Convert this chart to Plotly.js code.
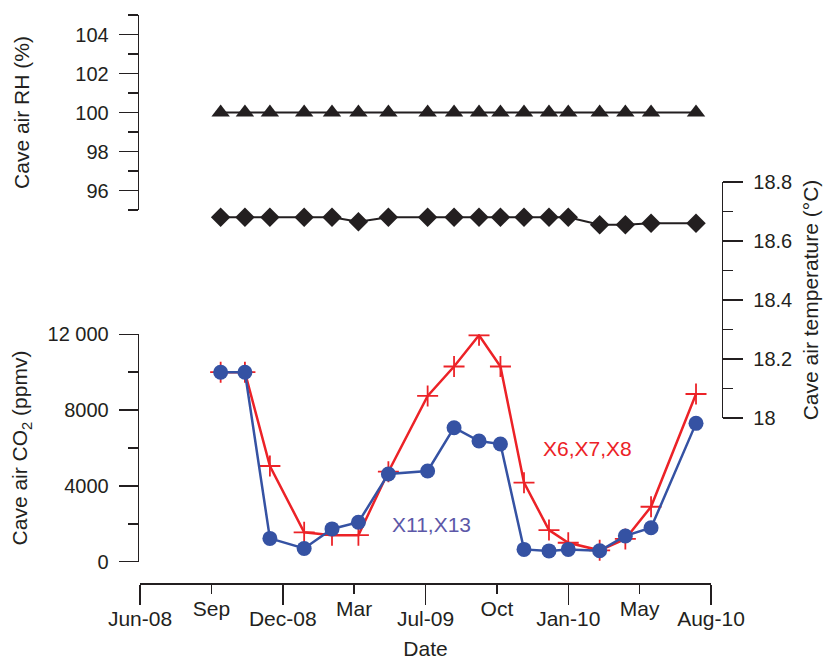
<!DOCTYPE html>
<html><head><meta charset="utf-8">
<script src="https://cdn.plot.ly/plotly-3.0.1.min.js"></script>
<style>html,body{margin:0;padding:0;background:#fff}#chart{width:823px;height:663px}</style>
</head><body><div id="chart"></div>
<script>
// Sampling dates as positions along the (evenly spaced) date axis, in tick intervals from Jun-08
const samplePos = [1.13, 1.47, 1.82, 2.30, 2.69, 3.06, 3.48, 4.03, 4.40, 4.75, 5.05, 5.38, 5.73, 6.00, 6.44, 6.80, 7.16, 7.79];
const rhValues = [100, 100, 100, 100, 100, 100, 100, 100, 100, 100, 100, 100, 100, 100, 100, 100, 100, 100];
const tempValues = [18.68, 18.68, 18.68, 18.68, 18.68, 18.665, 18.68, 18.68, 18.68, 18.68, 18.68, 18.68, 18.68, 18.68, 18.655, 18.655, 18.66, 18.66];
const co2X6X7X8 = [10000, 10000, 5050, 1550, 1400, 1400, 4750, 8750, 10300, 11950, 10300, 4170, 1670, 1000, 600, 1200, 2900, 8850];
const co2X11X13 = [10000, 10000, 1230, 700, 1730, 2080, 4630, 4790, 7070, 6370, 6210, 650, 570, 650, 580, 1360, 1790, 7300];

const majorTickPos = [0, 2, 4, 6, 8];
const majorTickLabels = ['Jun-08', 'Dec-08', 'Jul-09', 'Jan-10', 'Aug-10'];
const minorTickPos = [1, 3, 5, 7];
const minorTickLabels = ['Sep', 'Mar', 'Oct', 'May'];
const rhTicks = [96, 98, 100, 102, 104];
const tempTicks = [18, 18.2, 18.4, 18.6, 18.8];
const co2Ticks = [0, 4000, 8000, 12000];
const co2TickLabels = ['0', '4000', '8000', '12 000'];

const W = 823, H = 663;
const fx = px => px / W;
const fy = py => 1 - py / H;
const FONT = 'Liberation Sans, Arial, Helvetica, sans-serif';
const INK = '#231f20';
const RED = '#ec2227';
const BLUE = '#3552a3';

const xBase = {
  domain: [fx(140), fx(711)], range: [0, 8], anchor: 'free', position: fy(583.3),
  showgrid: false, zeroline: false, ticks: 'outside', tickcolor: INK, tickwidth: 1.5,
  tickfont: {family: FONT, size: 21, color: INK}, fixedrange: true
};

const layout = {
  width: W, height: H,
  margin: {l: 0, r: 0, t: 0, b: 0},
  paper_bgcolor: '#ffffff', plot_bgcolor: 'rgba(0,0,0,0)',
  showlegend: false, hovermode: false,
  font: {family: FONT, color: INK},
  xaxis: Object.assign({}, xBase, {
    showline: true, linecolor: INK, linewidth: 1.6,
    tickmode: 'array', tickvals: majorTickPos, ticktext: majorTickLabels, ticklen: 20,
    ticklabelstandoff: -4,
    title: {text: 'Date', font: {family: FONT, size: 21, color: INK}, standoff: 12}
  }),
  xaxis2: Object.assign({}, xBase, {
    overlaying: 'x', showline: false,
    tickmode: 'array', tickvals: minorTickPos, ticktext: minorTickLabels, ticklen: 10,
    ticklabelstandoff: -4
  }),
  yaxis: {
    domain: [fy(210), fy(15)], range: [95, 105], anchor: 'free', position: fx(137.7),
    showline: true, linecolor: INK, linewidth: 1.6, showgrid: false, zeroline: false,
    tickmode: 'array', tickvals: rhTicks, ticks: 'outside', ticklen: 19, tickwidth: 1.5, tickcolor: INK,
    minor: {tickmode: 'linear', tick0: 95, dtick: 1, ticks: 'outside', ticklen: 10, tickwidth: 1.5, tickcolor: INK, showgrid: false},
    ticklabelstandoff: 6,
    tickfont: {family: FONT, size: 20, color: INK},
    title: {text: 'Cave air RH (%)', font: {family: FONT, size: 21, color: INK}, standoff: 38},
    fixedrange: true
  },
  yaxis2: {
    domain: [fy(418.3), fy(181.7)], range: [17.9995, 18.8005], anchor: 'free', position: fx(721.7), side: 'right',
    showline: true, linecolor: INK, linewidth: 1.6, showgrid: false, zeroline: false,
    tickmode: 'array', tickvals: tempTicks, ticks: 'outside', ticklen: 20, tickwidth: 1.5, tickcolor: INK,
    minor: {tickmode: 'linear', tick0: 18.1, dtick: 0.2, ticks: 'outside', ticklen: 10, tickwidth: 1.5, tickcolor: INK, showgrid: false},
    ticklabelstandoff: 6,
    tickfont: {family: FONT, size: 20, color: INK},
    title: {text: 'Cave air temperature (°C)', font: {family: FONT, size: 21, color: INK}, standoff: 12},
    fixedrange: true
  },
  yaxis3: {
    domain: [fy(561.7), fy(334.3)], range: [0, 12000], anchor: 'free', position: fx(137.7),
    showline: true, linecolor: INK, linewidth: 1.6, showgrid: false, zeroline: false,
    tickmode: 'array', tickvals: co2Ticks, ticktext: co2TickLabels, ticks: 'outside', ticklen: 19, tickwidth: 1.5, tickcolor: INK,
    minor: {tickmode: 'linear', tick0: 0, dtick: 2000, ticks: 'outside', ticklen: 10, tickwidth: 1.5, tickcolor: INK, showgrid: false},
    ticklabelstandoff: 6,
    tickfont: {family: FONT, size: 20, color: INK},
    title: {text: 'Cave air CO<sub>2</sub> (ppmv)', font: {family: FONT, size: 21, color: INK}, standoff: 12},
    fixedrange: true
  },
  annotations: [
    {text: 'X6,X7,X8', x: 6.27, y: 5950, xref: 'x', yref: 'y3', showarrow: false,
     font: {family: FONT, size: 21, color: RED}},
    {text: 'X11,X13', x: 4.09, y: 1950, xref: 'x', yref: 'y3', showarrow: false,
     font: {family: FONT, size: 21, color: '#5c58a8'}}
  ]
};

const traces = [
  {x: samplePos, y: rhValues, xaxis: 'x2', yaxis: 'y', type: 'scatter', mode: 'lines+markers',
   line: {color: INK, width: 2}, marker: {symbol: 'triangle-up', size: 16, color: INK}},
  {x: samplePos, y: tempValues, xaxis: 'x', yaxis: 'y2', type: 'scatter', mode: 'lines+markers',
   line: {color: INK, width: 2}, marker: {symbol: 'diamond', size: 15, color: INK}},
  {x: samplePos, y: co2X6X7X8, xaxis: 'x', yaxis: 'y3', type: 'scatter', mode: 'lines+markers',
   line: {color: RED, width: 2.5},
   marker: {symbol: 'cross-thin-open', size: 15, color: RED, line: {color: RED, width: 1.8}}},
  {x: samplePos, y: co2X11X13, xaxis: 'x', yaxis: 'y3', type: 'scatter', mode: 'lines+markers',
   line: {color: BLUE, width: 2.5}, marker: {symbol: 'circle', size: 15, color: BLUE}}
];

Plotly.newPlot('chart', traces, layout, {staticPlot: true, displayModeBar: false});
</script>
</body></html>
